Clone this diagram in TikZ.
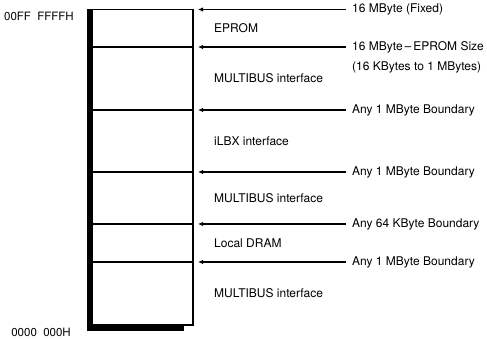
\documentclass[tikz,border=0pt]{standalone}
\usepackage{fontspec}
\setmainfont{TeX Gyre Heros}
\usepackage{tikz}
\usetikzlibrary{positioning,arrows.meta}

\begin{document}
\begin{tikzpicture}[
  x=1pt,y=1pt,
  reg/.style={rectangle,draw=black,line width=1.2pt,minimum width=103pt,inner sep=0pt,outer sep=0pt},
  inlbl/.style={inner sep=2pt,font=\fontsize{12}{14}\selectfont},
  rlbl/.style={inner sep=3pt,text height=9pt,text depth=2.5pt,font=\fontsize{12}{14}\selectfont},
  addr/.style={inner sep=2pt,font=\fontsize{11.5}{13}\selectfont},
  arr/.style={-{Latex[length=5pt,width=4.5pt]},line width=1.2pt,shorten >=5pt,shorten <=3pt}
]
\useasboundingbox (0,0) rectangle (487,339);
\node[reg,minimum height=37.5pt,anchor=north west] (eprom) at (90,329.5) {};
\node[reg,minimum height=63pt,below=0pt of eprom] (mbusa) {};
\node[reg,minimum height=62pt,below=0pt of mbusa] (ilbx) {};
\node[reg,minimum height=52pt,below=0pt of ilbx] (mbusb) {};
\node[reg,minimum height=38pt,below=0pt of mbusb] (dram) {};
\node[reg,minimum height=63pt,below=0pt of dram] (mbusc) {};
\fill (87,8) rectangle (93,329.5);
\fill (87,8) rectangle (184,14.5);
\node[inlbl,right=19pt of eprom.east] (teprom) {EPROM};
\node[inlbl,right=19pt of mbusa.east] (tmbusa) {MULTIBUS interface};
\node[inlbl,right=19pt of ilbx.east] (tilbx) {iLBX interface};
\node[inlbl,right=19pt of mbusb.east] (tmbusb) {MULTIBUS interface};
\node[inlbl,right=19pt of dram.east] (tdram) {Local DRAM};
\node[inlbl,right=19pt of mbusc.east] (tmbusc) {MULTIBUS interface};
\node[rlbl,right=156pt of eprom.north east] (fixed) {16 MByte (Fixed)};
\node[rlbl,right=156pt of eprom.south east] (size) {16 MByte\,--\,EPROM Size};
\node[rlbl,below=2pt of size.south west,anchor=north west] (range) {(16 KBytes to 1 MBytes)};
\node[rlbl,right=156pt of mbusa.south east] (bnda) {Any 1 MByte Boundary};
\node[rlbl,right=156pt of ilbx.south east] (bndb) {Any 1 MByte Boundary};
\node[rlbl,right=156pt of mbusb.south east] (bndc) {Any 64 KByte Boundary};
\node[rlbl,right=156pt of dram.south east] (bndd) {Any 1 MByte Boundary};
\node[addr,left=14pt of eprom.north west,yshift=-7pt] (top) {00FF\ \ FFFFH};
\node[addr,left=17pt of mbusc.south west,yshift=-7.5pt] (bottom) {0000\ \ 000H};
\draw[arr] (fixed.west) -- (eprom.north east);
\draw[arr] (size.west) -- (eprom.south east);
\draw[arr] (bnda.west) -- (mbusa.south east);
\draw[arr] (bndb.west) -- (ilbx.south east);
\draw[arr] (bndc.west) -- (mbusb.south east);
\draw[arr] (bndd.west) -- (dram.south east);
\end{tikzpicture}
\end{document}
